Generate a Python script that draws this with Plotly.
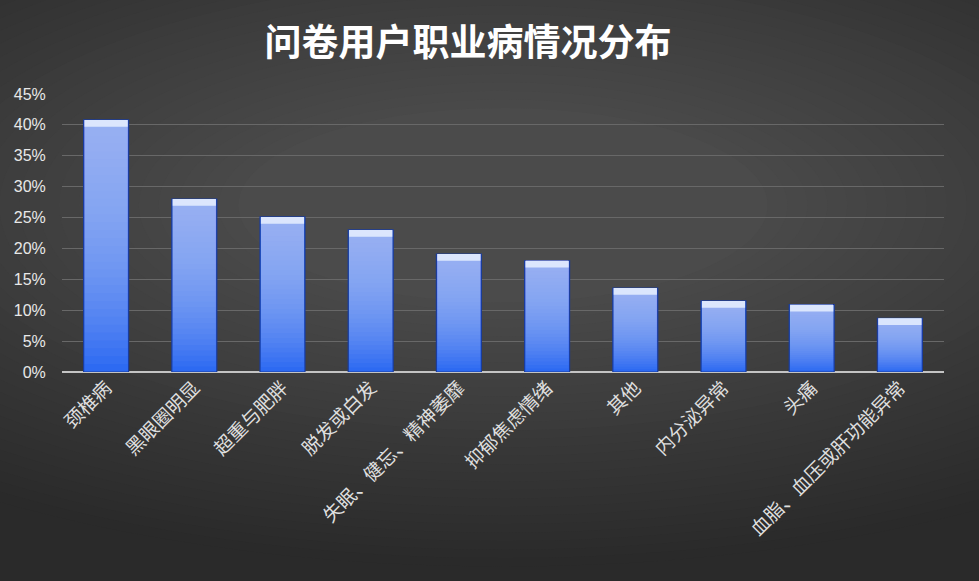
import plotly.graph_objects as go

categories = ["颈椎病", "黑眼圈明显", "超重与肥胖", "脱发或白发", "失眠、健忘、精神萎靡",
              "抑郁焦虑情绪", "其他", "内分泌异常", "头痛", "血脂、血压或肝功能异常"]
values = [40.8, 28.0, 25.1, 23.0, 19.1, 18.0, 13.6, 11.5, 10.9, 8.7]
y_ticks = [0, 5, 10, 15, 20, 25, 30, 35, 40, 45]
y_labels = [f"{t}%" for t in y_ticks]

BAR_W = 0.51
N_LAYERS = 32

fig = go.Figure()

# base bar: saturated blue with dark edge
fig.add_trace(go.Bar(
    x=categories, y=values, width=BAR_W,
    marker=dict(color="#2d6af2", line=dict(color="#1b3d9c", width=1.2)),
    hoverinfo="skip", showlegend=False,
))

# stacked translucent layers -> vertical gradient getting lighter to the top
for k in range(1, N_LAYERS):
    frac = k / N_LAYERS
    fig.add_trace(go.Bar(
        x=categories,
        base=[v * frac for v in values],
        y=[v * (1 - frac) for v in values],
        width=BAR_W - 0.02,
        marker=dict(color="rgba(180,200,255,0.055)", line=dict(width=0)),
        hoverinfo="skip", showlegend=False,
    ))

# light cap at the top of each bar
cap = 1.1
fig.add_trace(go.Bar(
    x=categories,
    base=[v - cap for v in values],
    y=[cap] * len(values),
    width=BAR_W - 0.02,
    marker=dict(color="rgba(232,240,255,0.85)", line=dict(width=0)),
    hoverinfo="skip", showlegend=False,
))

# radial-ish dark background made of nested ellipses
bg_shapes = []
steps = 32
for i in range(steps):
    t = i / (steps - 1)
    g = int(0x2a + (0x4b - 0x2a) * t)
    rx = 1.0 - 0.7 * t
    ry = 1.3 - 0.95 * t
    bg_shapes.append(dict(
        type="circle", xref="paper", yref="paper", layer="below",
        x0=0.5 - rx, x1=0.5 + rx, y0=0.6 - ry, y1=0.6 + ry,
        fillcolor=f"rgb({g},{g},{g})", line=dict(width=0),
    ))

fig.update_layout(
    width=979, height=581,
    barmode="overlay",
    paper_bgcolor="#2a2a2a",
    plot_bgcolor="rgba(0,0,0,0)",
    margin=dict(l=62, r=35, t=94, b=209),
    shapes=bg_shapes,
    title=dict(
        text="<b>问卷用户职业病情况分布</b>",
        x=0.478, xref="container", xanchor="center",
        y=0.926, yref="container", yanchor="middle",
        font=dict(family="Noto Sans CJK SC", size=37, color="#ffffff"),
    ),
    xaxis=dict(
        tickangle=-45,
        tickfont=dict(family="Noto Sans CJK SC", size=19, color="#dedede"),
        showgrid=False, showline=False, ticks="",
    ),
    yaxis=dict(
        range=[0, 45],
        tickvals=y_ticks, ticktext=y_labels,
        tickfont=dict(family="Liberation Sans", size=16, color="#e8e8e8"),
        showgrid=True, gridcolor="#686868", gridwidth=1,
        zeroline=True, zerolinecolor="#c4c4c4", zerolinewidth=2,
        ticks="outside", ticklen=12, tickcolor="rgba(0,0,0,0)",
        showline=False,
    ),
)

fig.write_html(
    "out.html",
    config={"displayModeBar": False},
    post_script="document.body.style.margin='0';document.body.style.background='#2a2a2a';",
)
